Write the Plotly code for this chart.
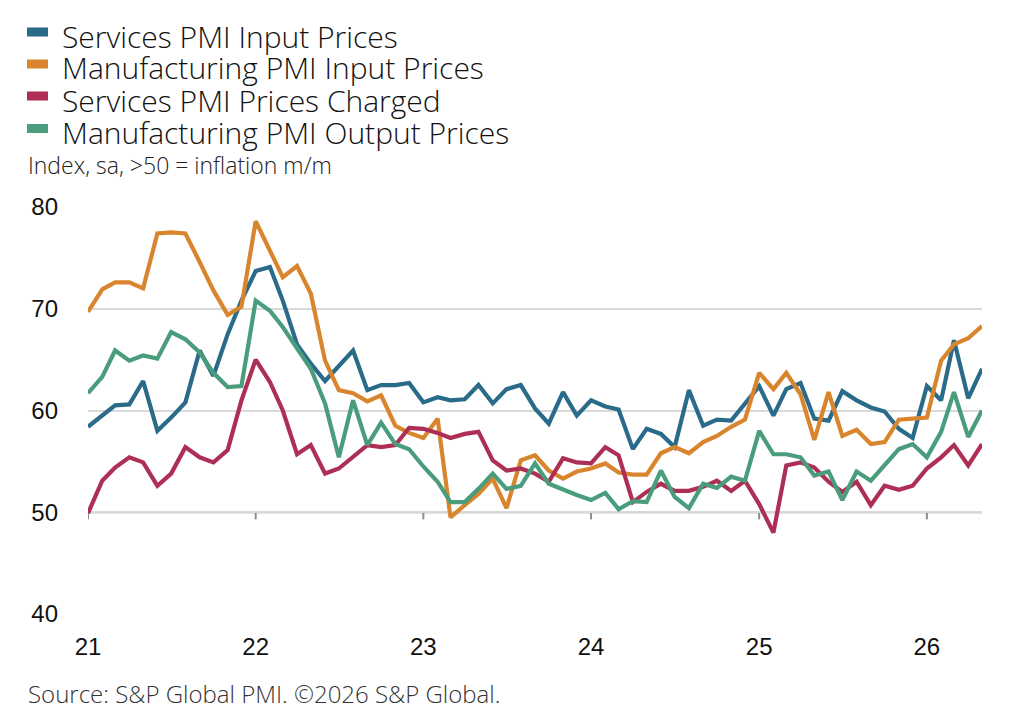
import pandas as pd
import plotly.graph_objects as go

# monthly, Jan 2021 - May 2026
months = pd.date_range("2021-01-01", periods=65, freq="MS")

services_input = [58.4, 59.5, 60.5, 60.6, 62.9, 58.0, 59.3, 60.8, 65.9, 63.4, 67.5, 70.8,
                  73.7, 74.1, 70.8, 66.5, 64.6, 62.9, 64.4, 65.9, 62.0, 62.5, 62.5, 62.7,
                  60.8, 61.3, 61.0, 61.1, 62.5, 60.7, 62.1, 62.5, 60.2, 58.7, 61.8, 59.5,
                  61.0, 60.4, 60.1, 56.2, 58.2, 57.7, 56.4, 62.0, 58.5, 59.1, 59.0, 60.7,
                  62.4, 59.5, 62.1, 62.7, 59.2, 59.0, 61.9, 61.0, 60.3, 59.9, 58.2, 57.3,
                  62.4, 61.0, 66.9, 61.2, 64.1]
manuf_input = [69.7, 71.9, 72.6, 72.6, 72.0, 77.4, 77.5, 77.4, 74.6, 71.8, 69.4, 70.2,
               78.6, 75.7, 73.1, 74.2, 71.5, 64.9, 62.0, 61.7, 60.9, 61.5, 58.5, 57.8,
               57.3, 59.2, 49.5, 50.7, 51.8, 53.3, 50.4, 55.1, 55.6, 54.1, 53.3, 54.0,
               54.3, 54.8, 53.9, 53.7, 53.7, 55.8, 56.4, 55.8, 56.9, 57.5, 58.4, 59.1,
               63.7, 62.1, 63.7, 61.6, 57.1, 61.8, 57.5, 58.1, 56.7, 56.9, 59.1, 59.2,
               59.3, 64.9, 66.5, 67.1, 68.3]
services_charged = [49.9, 53.1, 54.4, 55.4, 54.9, 52.6, 53.8, 56.4, 55.4, 54.9, 56.1, 61.0,
                    65.0, 62.8, 60.0, 55.7, 56.6, 53.8, 54.3, 55.4, 56.6, 56.4, 56.6, 58.3,
                    58.2, 57.8, 57.3, 57.7, 57.9, 55.1, 54.1, 54.3, 53.8, 53.0, 55.3, 54.9,
                    54.8, 56.4, 55.6, 51.0, 52.0, 52.8, 52.1, 52.1, 52.5, 53.1, 52.1, 53.1,
                    50.8, 48.0, 54.6, 54.9, 54.4, 53.0, 52.0, 53.0, 50.7, 52.6, 52.2, 52.6,
                    54.3, 55.4, 56.6, 54.6, 56.7]
manuf_output = [61.7, 63.3, 65.9, 64.9, 65.4, 65.1, 67.7, 67.0, 65.7, 63.7, 62.3, 62.4,
                70.8, 69.8, 68.2, 66.2, 64.1, 60.7, 55.4, 61.0, 56.6, 58.8, 56.7, 56.2,
                54.5, 53.0, 51.0, 51.0, 52.3, 53.8, 52.3, 52.6, 54.8, 52.8, 52.2, 51.7,
                51.2, 51.9, 50.3, 51.1, 51.0, 54.1, 51.5, 50.4, 52.8, 52.4, 53.5, 53.1,
                58.0, 55.7, 55.7, 55.4, 53.6, 54.0, 51.2, 54.0, 53.1, 54.6, 56.2, 56.7,
                55.4, 57.9, 61.8, 57.4, 60.0]

series_names = ["Services PMI Input Prices", "Manufacturing PMI Input Prices",
                "Services PMI Prices Charged", "Manufacturing PMI Output Prices"]
series_colors = ["#2b6b8a", "#d9852e", "#ad2f55", "#4a9d7c"]

year_ticks = ["2021-01-01", "2022-01-01", "2023-01-01", "2024-01-01", "2025-01-01", "2026-01-01"]
year_labels = ["21", "22", "23", "24", "25", "26"]

W, H = 1024, 719
L, R, T, B = 80, 50, 199, 113
PW, PH = W - L - R, H - T - B
OFF = 8  # page offset of the plot div


def px(xs):
    return (xs - OFF - L) / PW


def py(ys):
    return 1 - (ys - OFF - T) / PH


fig = go.Figure()
for name, vals, col in zip(series_names,
                           [services_input, manuf_input, services_charged, manuf_output],
                           series_colors):
    fig.add_trace(go.Scatter(x=months, y=vals, mode="lines", name=name,
                             line=dict(color=col, width=4.2), showlegend=False))

# axis line at 50 with year ticks
fig.add_shape(type="line", xref="paper", yref="y", x0=0, x1=1, y0=50, y1=50,
              line=dict(color="#8c8c8c", width=2), layer="below")
for t in year_ticks:
    fig.add_shape(type="line", xref="x", yref="y", x0=t, x1=t, y0=50, y1=49.3,
                  line=dict(color="#8c8c8c", width=2), layer="below")

text_font = "Open Sans, DejaVu Sans, sans-serif"
num_font = "Liberation Sans, Arial, sans-serif"

# legend drawn by hand: swatch + label
annotations = []
legend_text_y = [36, 67, 100, 133]
legend_swatch_y = [32, 64, 96, 128.5]
for name, col, ty, sy in zip(series_names, series_colors, legend_text_y, legend_swatch_y):
    fig.add_shape(type="rect", xref="paper", yref="paper",
                  x0=px(27), x1=px(48), y0=py(sy - 4.5), y1=py(sy + 4.5),
                  fillcolor=col, line=dict(width=0))
    annotations.append(dict(text=name, xref="paper", yref="paper", x=px(60), y=py(ty),
                            xanchor="left", yanchor="middle", showarrow=False,
                            font=dict(family=text_font, size=30, color="#111111", weight=300)))

annotations.append(dict(text="Index, sa, >50 = inflation m/m", xref="paper", yref="paper",
                        x=px(26), y=py(164.5), xanchor="left", yanchor="middle", showarrow=False,
                        font=dict(family=text_font, size=23, color="#222222", weight=300)))
annotations.append(dict(text="Source: S&P Global PMI. ©2026 S&P Global.", xref="paper", yref="paper",
                        x=px(26), y=py(693.5), xanchor="left", yanchor="middle", showarrow=False,
                        font=dict(family=text_font, size=24, color="#333333", weight=300)))

fig.update_layout(
    width=W, height=H,
    margin=dict(l=L, r=R, t=T, b=B),
    paper_bgcolor="white", plot_bgcolor="white",
    font=dict(family=text_font, color="#111111"),
    showlegend=False,
    annotations=annotations,
)

fig.update_xaxes(range=["2021-01-01", "2026-05-01"], tickvals=year_ticks, ticktext=year_labels,
                 showgrid=False, showline=False, ticks="", zeroline=False,
                 ticklabelstandoff=16,
                 tickfont=dict(family=num_font, size=24, color="#111111"))
fig.update_yaxes(range=[40, 80], tickvals=[40, 50, 60, 70, 80], showgrid=True,
                 gridcolor="#d9d9d9", gridwidth=1.5, zeroline=False, showline=False,
                 ticks="", ticklabelstandoff=29,
                 tickfont=dict(family=num_font, size=24, color="#111111"))

fig.write_html("out.html")
